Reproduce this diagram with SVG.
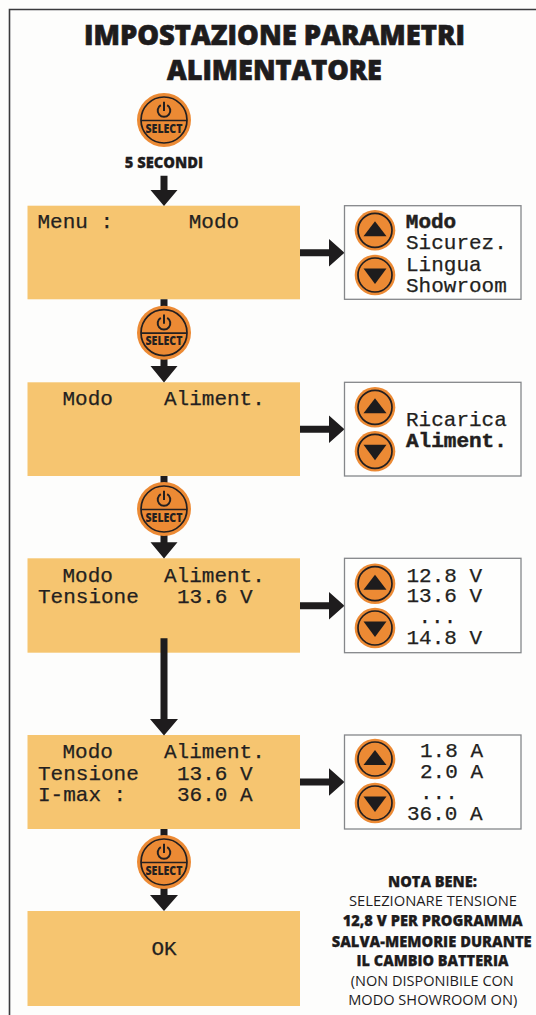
<svg xmlns="http://www.w3.org/2000/svg" width="536" height="1015" viewBox="0 0 536 1015">
<style>
.lcd{fill:#F6C570}
.side{fill:#FEFEFD;stroke:#85878A;stroke-width:1.3}
.m{font-family:"Liberation Mono",monospace;font-size:21px;fill:#231F20;stroke:#231F20;stroke-width:.25}
.b{font-weight:700;stroke-width:.5}
.h{font-family:"Open Sans","Liberation Sans",sans-serif;fill:#1E1C1D;font-weight:800;text-anchor:middle}
.t{font-size:28.5px;stroke:#1E1C1D;stroke-width:.7}
.n{font-size:15px;font-weight:800;stroke:#1E1C1D;stroke-width:.25}
.r{font-size:15px;font-weight:500}
.shaft{stroke:#1E1C1D;stroke-width:7;fill:none}
.head{fill:#1E1C1D}
.o{fill:#EC8A34}
.ring{fill:none;stroke:#231F20;stroke-width:1.7}
.sel{font-family:"Open Sans","Liberation Sans",sans-serif;font-weight:800;font-size:13px;fill:#231F20;text-anchor:middle}
</style>
<defs>
<g id="select">
<circle class="o" r="27"/>
<circle class="ring" r="23"/>
<path class="ring" d="M-23 .5H23"/>
<path d="M-3.2-14.9A6.3 6.3 0 1 0 3.2-14.9M0-18.3V-9" fill="none" stroke="#231F20" stroke-width="2"/>
<text class="sel" y="12.500" textLength="37" lengthAdjust="spacingAndGlyphs">SELECT</text>
</g>
<g id="up"><circle class="o" r="20.300"/><circle class="ring" r="17"/><path class="head" d="M-11.500 6H11.500L0-9Z"/></g>
<g id="down"><circle class="o" r="20.300"/><circle class="ring" r="17"/><path class="head" d="M-11.500-6.500H11.500L0 9Z"/></g>
</defs>
<rect width="536" height="1015" fill="#FDFDFC"/>
<path d="M9.500 1015V9.500H536" fill="none" stroke="#3A3A3C" stroke-width="1.6"/>
<g id="title">
<text class="h t" x="274.500" y="45" textLength="381" lengthAdjust="spacingAndGlyphs">IMPOSTAZIONE PARAMETRI</text>
<text class="h t" x="274.500" y="80" textLength="215" lengthAdjust="spacingAndGlyphs">ALIMENTATORE</text>
</g>
<g id="lcd1"><rect class="lcd" x="27.500" y="205.700" width="272.500" height="93.600"/>
<text class="m" x="37.500" y="227.700">Menu :</text><text class="m" x="188.700" y="227.700">Modo</text></g>
<g id="lcd2"><rect class="lcd" x="27.500" y="382.300" width="272.500" height="93.700"/>
<text class="m" x="62.500" y="405">Modo</text><text class="m" x="164" y="405">Aliment.</text></g>
<g id="lcd3"><rect class="lcd" x="27.500" y="558.300" width="272.500" height="94.400"/>
<text class="m" x="62.500" y="581.500">Modo</text><text class="m" x="164" y="581.500">Aliment.</text>
<text class="m" x="38" y="602.500">Tensione</text><text class="m" x="177" y="602.500">13.6 V</text></g>
<g id="lcd4"><rect class="lcd" x="27.500" y="735" width="272.500" height="94"/>
<text class="m" x="62.500" y="757.700">Modo</text><text class="m" x="164" y="757.700">Aliment.</text>
<text class="m" x="38" y="779.500">Tensione</text><text class="m" x="177" y="779.500">13.6 V</text>
<text class="m" x="38" y="801">I-max :</text><text class="m" x="177" y="801">36.0 A</text></g>
<g id="lcd5"><rect class="lcd" x="27.500" y="911" width="272.500" height="95"/>
<text class="m" x="151.500" y="955">OK</text></g>
<g id="connectors">
<path class="shaft" d="M164 175.700V195M164 299.300V370M164 476V546M164 638.300V725M164 829V900M300 252.700H332M300 429.300H332M300 605.700H332M300 782H332"/>
<path class="head" d="M150.500 190H177.500L164 206ZM150.500 366H177.500L164 382.500ZM150.500 542.300H177.500L164 558.500ZM150 719H178L164 735.500ZM150 895H178L164 911ZM329 239V266.400L344.500 252.700ZM329 415.600V443L344.500 429.300ZM329 592V619.400L344.500 605.700ZM329 768.300V795.700L344.500 782Z"/>
</g>
<g id="btn1"><use href="#select" x="164" y="120"/></g>
<text class="h" x="164" y="168" font-size="16.500" stroke="#1E1C1D" stroke-width=".3" textLength="78.500" lengthAdjust="spacingAndGlyphs">5 SECONDI</text>
<g id="btn2"><use href="#select" x="164" y="332.700"/></g>
<g id="btn3"><use href="#select" x="164" y="509"/></g>
<g id="btn4"><use href="#select" x="164" y="862"/></g>
<g id="side1"><rect class="side" x="344.500" y="205.700" width="176.500" height="93.600"/>
<use href="#up" x="375" y="230.300"/><use href="#down" x="375" y="275"/>
<text class="m b" x="405.800" y="227.700">Modo</text><text class="m" x="406" y="249.300">Sicurez.</text><text class="m" x="406" y="270.700">Lingua</text><text class="m" x="406" y="291.700">Showroom</text></g>
<g id="side2"><rect class="side" x="344.500" y="382.300" width="176.500" height="93.700"/>
<use href="#up" x="375" y="407.300"/><use href="#down" x="375" y="451.300"/>
<text class="m" x="406" y="426">Ricarica</text><text class="m b" x="406" y="446.700">Aliment.</text></g>
<g id="side3"><rect class="side" x="344.500" y="558.300" width="176.500" height="94.400"/>
<use href="#up" x="375" y="583.700"/><use href="#down" x="375" y="628"/>
<text class="m" x="406.500" y="581.700">12.8 V</text><text class="m" x="406.500" y="602.300">13.6 V</text><text class="m" x="418.500" y="623.300">...</text><text class="m" x="406.500" y="644">14.8 V</text></g>
<g id="side4"><rect class="side" x="344.500" y="735" width="176.500" height="94"/>
<use href="#up" x="375" y="759"/><use href="#down" x="375" y="803"/>
<text class="m" x="420" y="757">1.8 A</text><text class="m" x="420" y="778">2.0 A</text><text class="m" x="420" y="799">...</text><text class="m" x="407" y="819.500">36.0 A</text></g>
<g id="note">
<text class="h n" x="432.500" y="887" textLength="89" lengthAdjust="spacingAndGlyphs">NOTA BENE:</text>
<text class="h r" x="433" y="906" textLength="168" lengthAdjust="spacingAndGlyphs">SELEZIONARE TENSIONE</text>
<text class="h n" x="432.700" y="926" textLength="180" lengthAdjust="spacingAndGlyphs">12,8 V PER PROGRAMMA</text>
<text class="h n" x="431.700" y="946.500" textLength="200" lengthAdjust="spacingAndGlyphs">SALVA-MEMORIE DURANTE</text>
<text class="h n" x="432.500" y="966" textLength="152" lengthAdjust="spacingAndGlyphs">IL CAMBIO BATTERIA</text>
<text class="h r" x="432.300" y="986" textLength="163" lengthAdjust="spacingAndGlyphs">(NON DISPONIBILE CON</text>
<text class="h r" x="432.700" y="1005" textLength="169" lengthAdjust="spacingAndGlyphs">MODO SHOWROOM ON)</text>
</g>
</svg>
